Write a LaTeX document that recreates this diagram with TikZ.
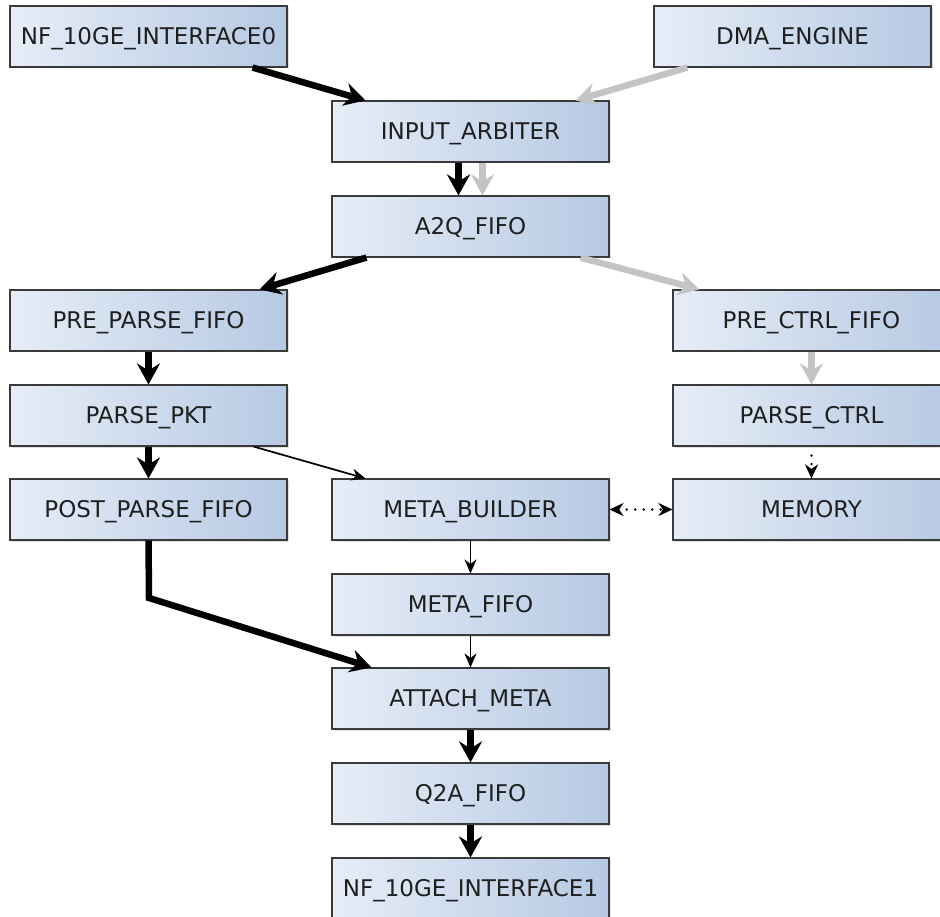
\documentclass[tikz,border=0pt]{standalone}
\usepackage{fontspec}
\setmainfont{DejaVu Sans}
\usetikzlibrary{arrows.meta,shadows}

\definecolor{boxleft}{HTML}{E6EDF7}
\definecolor{boxright}{HTML}{B6C9E3}
\definecolor{boxline}{HTML}{3A3A3A}
\definecolor{ctrlgray}{HTML}{C4C4C4}

\tikzset{
	block/.style={draw=boxline, line width=1.1pt, left color=boxleft, right color=boxright,
		minimum width=277pt, minimum height=61pt, inner sep=0pt,
		font=\fontsize{23}{26}\selectfont, text=black!88,
		text height=16.5pt, text depth=0pt,
		drop shadow={shadow xshift=1.5pt, shadow yshift=-1.5pt, opacity=0.25}},
	memtip/.tip={Stealth[length=14pt, width=13pt, inset=4.5pt]},
	datapath/.style={line width=6.5pt, -{Stealth[length=21pt, width=23pt, inset=7pt]}},
	ctrlpath/.style={datapath, draw=ctrlgray},
	metapath/.style={line width=1.7pt, -{Stealth[length=14pt, width=12pt, inset=4.5pt]}},
	mempath/.style={line width=2.6pt, line cap=round, dash pattern=on 0pt off 8.5pt}
}

\begin{document}
\begin{tikzpicture}[x=1pt, y=-1pt]
		\useasboundingbox (0,0) rectangle (940,917);
		\clip (0,0) rectangle (940,917);

		% blocks
		\node (nf0)       [block] at (148.5,36.5)  {NF\_10GE\_INTERFACE0};
		\node (dma)       [block] at (792.5,36.5)  {DMA\_ENGINE};
		\node (arbiter)   [block] at (470.5,131.5) {INPUT\_ARBITER};
		\node (atoq)      [block] at (470.5,226.5) {A2Q\_FIFO};
		\node (preparse)  [block] at (148.5,320.5) {PRE\_PARSE\_FIFO};
		\node (prectrl)   [block] at (811.5,320.5) {PRE\_CTRL\_FIFO};
		\node (parsepkt)  [block] at (148.5,415.5) {PARSE\_PKT};
		\node (parsectrl) [block] at (811.5,415.5) {PARSE\_CTRL};
		\node (postparse) [block] at (148.5,509.5) {POST\_PARSE\_FIFO};
		\node (metabuild) [block] at (470.5,509.5) {META\_BUILDER};
		\node (memory)    [block] at (811.5,509.5) {MEMORY};
		\node (metafifo)  [block] at (470.5,604.5) {META\_FIFO};
		\node (attach)    [block] at (470.5,698.5) {ATTACH\_META};
		\node (qtoa)      [block] at (470.5,793.5) {Q2A\_FIFO};
		\node (nf1)       [block] at (470.5,888.5) {NF\_10GE\_INTERFACE1};

		% packet data path
		\draw [datapath] ([xshift=-35pt]nf0.south east) -- ([xshift=34pt]arbiter.north west);
		\draw [datapath] ([xshift=-12pt]arbiter.south) -- ([xshift=-12pt]atoq.north);
		\draw [datapath] ([xshift=35pt]atoq.south west) -- ([xshift=-28pt]preparse.north east);
		\draw [datapath] (preparse) -- (parsepkt);
		\draw [datapath] (parsepkt) -- (postparse);
		\coordinate (bend) at (149,598);
		\draw [datapath] (postparse.south) -- (bend) -- ([xshift=40pt]attach.north west);
		\draw [datapath] (attach) -- (qtoa);
		\draw [datapath] (qtoa) -- (nf1);

		% control path
		\draw [ctrlpath] ([xshift=34pt]dma.south west) -- ([xshift=-34pt]arbiter.north east);
		\draw [ctrlpath] ([xshift=12pt]arbiter.south) -- ([xshift=12pt]atoq.north);
		\draw [ctrlpath] ([xshift=-29pt]atoq.south east) -- ([xshift=27pt]prectrl.north west);
		\draw [ctrlpath] (prectrl) -- (parsectrl);

		% metadata path
		\draw [metapath] ([xshift=-34pt]parsepkt.south east) -- ([xshift=34pt]metabuild.north west);
		\draw [metapath] (metabuild) -- (metafifo);
		\draw [metapath] (metafifo) -- (attach);
		\draw [mempath, memtip-memtip] (metabuild) -- (memory);
		\draw [mempath, -memtip] ([yshift=-9pt]parsectrl.south) -- (memory.north);
\end{tikzpicture}
\end{document}
